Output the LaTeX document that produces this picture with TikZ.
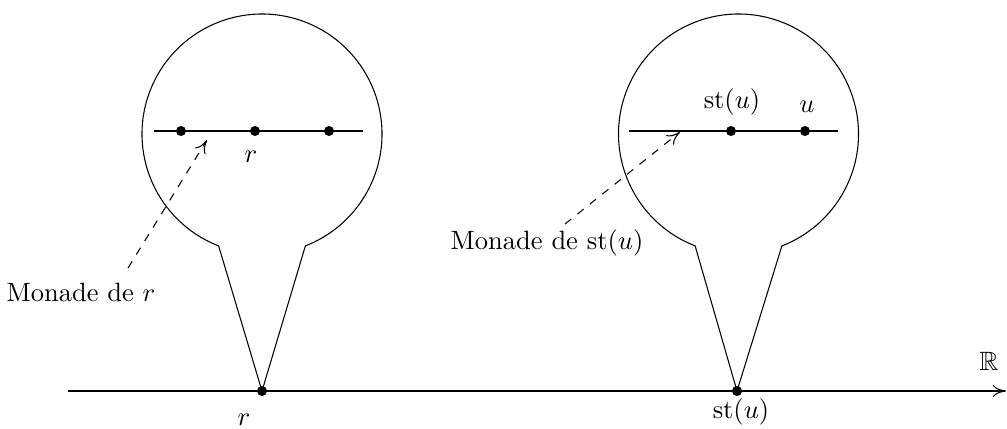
\documentclass[tikz,border=0pt]{standalone}
\usepackage{amssymb}
\usetikzlibrary{arrows.meta, calc}

\begin{document}
\begin{tikzpicture}[
    x=0.3775pt, y=0.3775pt,
    point/.style={circle, fill=black, inner sep=0pt, minimum size=3.8pt},
    lbl/.style={inner sep=0pt},
    arrow/.style={-{To[length=5pt, width=4.6pt]}},
    pointer/.style={arrow, dashed}
]
\useasboundingbox (0,0) rectangle (1007,428);

% the real line
\coordinate (axis-start) at (68,37);
\coordinate (axis-end) at (1006,37);
\draw[arrow] (axis-start) -- (axis-end);
\node[lbl] (reals) at (989,67) {$\mathbb{R}$};
\node[point] (r) at (262,37) {};
\node[point] (stu) at (737,37) {};
\node[lbl] (r-lbl) at (244,8.5) {$r$};
\node[lbl] (stu-lbl) at (741,16) {$\mathrm{st}(u)$};

% balloons
\coordinate (monad-r) at (262,294);
\coordinate (monad-stu) at (738.5,294);
\draw (r.center) -- ($(monad-r)+(248.8:120)$) arc[start angle=248.8, end angle=-68.8, radius=120] -- cycle;
\draw (stu.center) -- ($(monad-stu)+(248.8:120)$) arc[start angle=248.8, end angle=-68.8, radius=120] -- cycle;

% monad of r
\coordinate (line-r-a) at (154,297);
\coordinate (line-r-b) at (363,297);
\draw (line-r-a) -- (line-r-b);
\node[point] (r-a) at (181,297) {};
\node[point] (r-b) at (255,297) {};
\node[point] (r-c) at (329,297) {};
\node[lbl] (r-in) at (251,271) {$r$};

% monad of st(u)
\coordinate (line-u-a) at (629,297);
\coordinate (line-u-b) at (838,297);
\draw (line-u-a) -- (line-u-b);
\node[point] (stu-in) at (731,297) {};
\node[point] (u) at (805,297) {};
\node[lbl] (stu-in-lbl) at (732,326) {$\mathrm{st}(u)$};
\node[lbl] (u-lbl) at (807,321) {$u$};

% pointers
\node[lbl] (monade-r) at (81,136) {Monade de $r$};
\node[lbl] (monade-stu) at (547,185) {Monade de $\mathrm{st}(u)$};
\coordinate (ptr-r-a) at (128,160);
\coordinate (ptr-r-b) at (207,288);
\coordinate (ptr-u-a) at (565,204);
\coordinate (ptr-u-b) at (680,296);
\draw[pointer] (ptr-r-a) -- (ptr-r-b);
\draw[pointer] (ptr-u-a) -- (ptr-u-b);
\end{tikzpicture}
\end{document}
